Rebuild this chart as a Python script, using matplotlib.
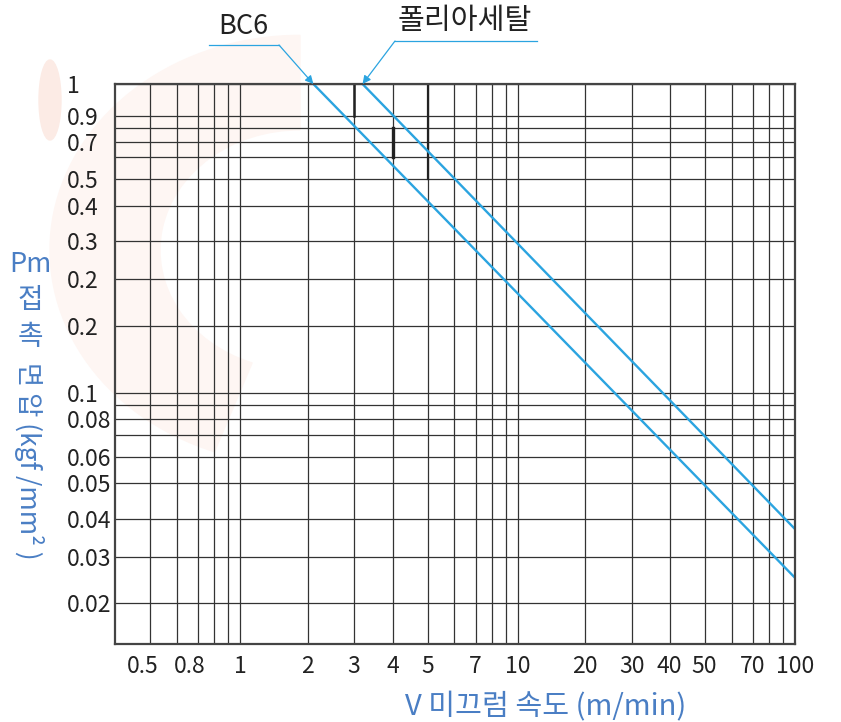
import numpy as np
import matplotlib.pyplot as plt
from matplotlib.lines import Line2D
from matplotlib.patches import Wedge, Ellipse
from matplotlib.transforms import ScaledTranslation

plt.rcParams['font.family'] = ['Noto Sans CJK KR', 'DejaVu Sans']

# speed axis (V, m/min): grid lines, labelled ticks
v_grid = [0.5, 0.6, 0.7, 0.8, 0.9, 1, 2, 3, 4, 5, 6, 7, 8, 9, 10,
          20, 30, 40, 50, 60, 70, 80, 90, 100]
v_ticks = [0.5, 0.8, 1, 2, 3, 4, 5, 7, 10, 20, 30, 40, 50, 70, 100]
v_labels = ['0.5', '0.8', '1', '2', '3', '4', '5', '7', '10',
            '20', '30', '40', '50', '70', '100']

# pressure axis (Pm, kgf/mm2): grid lines, labelled ticks (labels as printed)
p_grid = [1, 0.9, 0.8, 0.7, 0.6, 0.5, 0.4, 0.3, 0.25, 0.15,
          0.1, 0.09, 0.08, 0.07, 0.06, 0.05, 0.04, 0.03, 0.02]
p_ticks = [1, 0.9, 0.7, 0.5, 0.4, 0.3, 0.25, 0.15,
           0.1, 0.08, 0.06, 0.05, 0.04, 0.03, 0.02]
p_labels = ['1', '0.9', '0.7', '0.5', '0.4', '0.3', '0.2', '0.2',
            '0.1', '0.08', '0.06', '0.05', '0.04', '0.03', '0.02']

# the two material lines (start at top, end at V=100)
materials = ['BC6', '폴리아세탈']
v_start = [2.1, 3.2]
p_start = [1.0, 1.0]
v_end = [100, 100]
p_end = [0.025, 0.037]

# the printed chart paper is not a true log grid: spacing of each grid line
x_paper_v = [0.1, 0.5, 0.6, 0.7, 0.8, 0.9, 1, 2, 3, 4, 5, 6, 7, 8, 9, 10,
             20, 30, 40, 50, 60, 70, 80, 90, 100, 1000]
x_paper_at = [-44, 150, 177, 198, 214, 228, 240, 308, 354, 393, 428, 454, 476,
              492, 506, 518, 585, 632, 670, 705, 732, 753, 769, 783, 795.5, 1073]
y_paper_v = [0.01, 0.02, 0.03, 0.04, 0.05, 0.06, 0.07, 0.08, 0.09, 0.1,
             0.15, 0.25, 0.3, 0.4, 0.5, 0.6, 0.7, 0.8, 0.9, 1, 10]
y_paper_at = [696.2, 603.3, 557, 518.7, 483.3, 456.7, 435, 419.3, 405.3, 392.7,
              325.7, 279.3, 241, 205.7, 179, 157.3, 142.3, 127.7, 115.7, 84, -224.7]

xl = np.log10(x_paper_v)
xp = np.array(x_paper_at, dtype=float)
yl = np.log10(y_paper_v)
yp = -np.array(y_paper_at, dtype=float)


def x_fwd(v):
    return np.interp(np.log10(np.clip(v, 1e-9, None)), xl, xp)


def x_inv(p):
    return 10 ** np.interp(p, xp, xl)


def y_fwd(v):
    return np.interp(np.log10(np.clip(v, 1e-9, None)), yl, yp)


def y_inv(p):
    return 10 ** np.interp(p, yp, yl)


W, H = 841, 722
fig = plt.figure(figsize=(W / 100, H / 100), dpi=100)


def fpos(x, y):
    # pixel position (from top-left) -> figure fraction
    return x / W, 1 - y / H


# faint watermark behind the chart
fig.patches.append(Wedge(fpos(300, 250), 250 / W, 90, 250, width=110 / W,
                         transform=fig.transFigure, color='#fef6f3', zorder=-5))
fig.patches.append(Ellipse(fpos(50, 100), 22 / W, 80 / H, transform=fig.transFigure,
                           color='#fcebe5', zorder=-5))

ax = fig.add_axes([115 / W, (H - 644) / H, 680 / W, 560 / H])
ax.set_facecolor('none')
ax.set_xscale('function', functions=(x_fwd, x_inv))
ax.set_yscale('function', functions=(y_fwd, y_inv))
ax.set_xlim(0.374, 100)
ax.set_ylim(0.01476, 1)

ax.set_xticks(v_ticks, v_labels)
ax.set_xticks(v_grid, minor=True)
ax.set_yticks(p_ticks, p_labels)
ax.set_yticks(p_grid, minor=True)
ax.grid(True, which='both', color='#333333', lw=0.9)
ax.set_axisbelow(True)
ax.tick_params(which='both', length=0)
ax.tick_params(axis='x', pad=8, labelsize=16.5, labelcolor='#222222')
ax.tick_params(axis='y', pad=34.5, labelsize=16.5, labelcolor='#222222')
for lab in ax.get_yticklabels():
    lab.set_horizontalalignment('left')

# the printed sheet sets the first two speed labels a little left of their lines
fig.canvas.draw()
for lab, dx in zip(ax.get_xticklabels()[:2], [-7, -24]):
    lab.set_transform(lab.get_transform() + ScaledTranslation(dx / 100, 0, fig.dpi_scale_trans))

for s in ax.spines.values():
    s.set_color('#444444')
    s.set_linewidth(1.6)

# darker strokes printed on a few grid lines
ax.plot([3, 3], [1, 0.9], color='#222222', lw=1.8)
ax.plot([4, 4], [0.8, 0.6], color='#222222', lw=2.4)
ax.plot([5, 5], [1, 0.5], color='#222222', lw=1.6)

blue = '#2ba4e0'
for i in range(len(materials)):
    ax.plot([v_start[i], v_end[i]], [p_start[i], p_end[i]], color=blue, lw=1.7,
            solid_capstyle='butt', clip_on=False)

# material labels with leader lines
label_text = [(243, 27), (465, 21)]
label_size = [19.5, 21]
leader = [((209, 45), (279, 45)), ((537, 41), (395, 41))]
for i, name in enumerate(materials):
    fig.text(*fpos(*label_text[i]), name, ha='center', va='center',
             fontsize=label_size[i], color='#222222')
    (xa, ya), (xb, yb) = leader[i]
    fig.add_artist(Line2D([xa / W, xb / W], [1 - ya / H, 1 - yb / H],
                          transform=fig.transFigure, color=blue, lw=0.9))
    ax.annotate('', xy=(v_start[i], p_start[i]), xycoords='data',
                xytext=fpos(xb, yb), textcoords='figure fraction',
                arrowprops=dict(arrowstyle='-|>', color=blue, lw=0.9,
                                mutation_scale=12, shrinkA=0, shrinkB=0))

# axis titles
lab_blue = '#4a7ec4'
fig.text(*fpos(30, 265), 'Pm', ha='center', va='center', fontsize=19.5, color=lab_blue)
fig.text(*fpos(30, 300), '접', ha='center', va='center', fontsize=20, color=lab_blue)
fig.text(*fpos(30, 337), '촉', ha='center', va='center', fontsize=20, color=lab_blue)
fig.text(*fpos(29, 461), '면 압 (kgf /mm² )', ha='center', va='center', rotation=-90,
         fontsize=19, color=lab_blue)
fig.text(*fpos(546, 707), 'V 미끄럼 속도 (m/min)', ha='center', va='center',
         fontsize=21, color=lab_blue)

fig.savefig('out.png', dpi=100)
